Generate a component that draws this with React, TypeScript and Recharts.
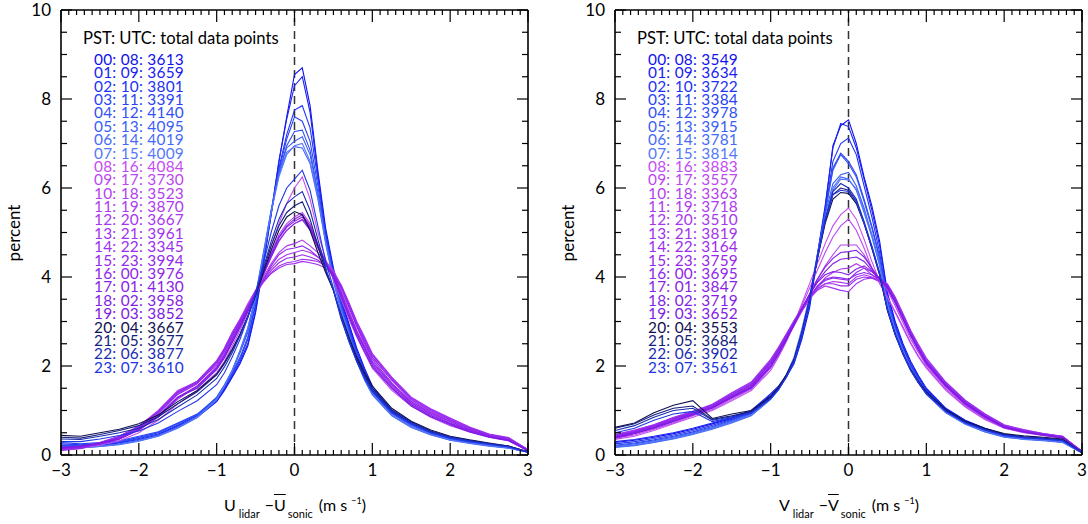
import React from 'react';
import { LineChart, Line, XAxis, YAxis, ReferenceLine } from 'recharts';

// ---------- data ----------
const X_VALUES = [-3, -2.75, -2.5, -2.25, -2, -1.75, -1.5, -1.25, -1, -0.9, -0.8, -0.7, -0.6, -0.5, -0.4, -0.3, -0.2, -0.1, 0, 0.1, 0.2, 0.3, 0.4, 0.5, 0.6, 0.7, 0.8, 0.9, 1, 1.25, 1.5, 1.75, 2, 2.25, 2.5, 2.75, 3];

const HOURS_PST = ['00', '01', '02', '03', '04', '05', '06', '07', '08', '09', '10', '11', '12', '13', '14', '15', '16', '17', '18', '19', '20', '21', '22', '23'];
const HOURS_UTC = ['08', '09', '10', '11', '12', '13', '14', '15', '16', '17', '18', '19', '20', '21', '22', '23', '00', '01', '02', '03', '04', '05', '06', '07'];
const U_COUNTS = [3613, 3659, 3801, 3391, 4140, 4095, 4019, 4009, 4084, 3730, 3523, 3870, 3667, 3961, 3345, 3994, 3976, 4130, 3958, 3852, 3667, 3677, 3877, 3610];
const V_COUNTS = [3549, 3634, 3722, 3384, 3978, 3915, 3781, 3814, 3883, 3557, 3363, 3718, 3510, 3819, 3164, 3759, 3695, 3847, 3719, 3652, 3553, 3684, 3902, 3561];

const X_TICK_LABELS = [-3, -2, -1, 0, 1, 2, 3];
const Y_TICK_LABELS = [0, 2, 4, 6, 8, 10];

const U_CURVES = [
  [0.2,0.2,0.22,0.27,0.35,0.45,0.65,0.85,1.2,1.45,1.75,2.05,2.45,3.2,4.25,5.4,6.6,7.6,8.55,8.7,7.85,6.4,5.1,4.2,3.5,2.95,2.4,1.95,1.55,1.0,0.72,0.52,0.38,0.3,0.24,0.18,0.06],
  [0.22,0.21,0.24,0.28,0.37,0.47,0.67,0.88,1.22,1.48,1.78,2.1,2.5,3.25,4.3,5.45,6.6,7.55,8.3,8.5,7.7,6.3,5.0,4.15,3.45,2.9,2.35,1.9,1.5,0.98,0.7,0.5,0.37,0.29,0.23,0.17,0.06],
  [0.25,0.23,0.26,0.3,0.4,0.5,0.7,0.9,1.25,1.52,1.82,2.15,2.6,3.35,4.35,5.4,6.45,7.2,7.75,7.85,7.35,6.2,4.95,4.1,3.4,2.85,2.3,1.85,1.48,0.96,0.7,0.5,0.36,0.29,0.23,0.17,0.07],
  [0.28,0.25,0.28,0.32,0.42,0.52,0.72,0.92,1.28,1.55,1.85,2.2,2.65,3.4,4.4,5.45,6.4,7.1,7.6,7.5,7.05,6.05,4.9,4.05,3.35,2.8,2.25,1.82,1.45,0.95,0.68,0.5,0.37,0.3,0.24,0.18,0.07],
  [0.22,0.21,0.25,0.3,0.38,0.5,0.7,0.9,1.3,1.58,1.9,2.3,2.75,3.5,4.45,5.45,6.35,6.95,7.27,7.3,6.85,5.9,4.85,4.0,3.3,2.75,2.2,1.78,1.42,0.93,0.67,0.49,0.36,0.29,0.23,0.17,0.07],
  [0.18,0.17,0.2,0.25,0.33,0.44,0.63,0.86,1.26,1.56,1.9,2.32,2.8,3.55,4.5,5.5,6.35,6.9,7.05,7.15,6.75,5.85,4.8,3.95,3.25,2.7,2.15,1.72,1.38,0.9,0.64,0.47,0.34,0.27,0.21,0.16,0.06],
  [0.16,0.16,0.19,0.23,0.31,0.42,0.6,0.84,1.24,1.55,1.9,2.35,2.85,3.6,4.55,5.5,6.3,6.8,6.93,6.9,6.55,5.75,4.75,3.9,3.2,2.65,2.1,1.68,1.35,0.88,0.62,0.45,0.33,0.26,0.2,0.15,0.06],
  [0.17,0.16,0.19,0.24,0.32,0.43,0.61,0.85,1.25,1.55,1.9,2.35,2.85,3.55,4.5,5.45,6.25,6.75,6.95,7.0,6.6,5.8,4.8,3.95,3.25,2.7,2.15,1.7,1.36,0.89,0.63,0.46,0.34,0.27,0.21,0.16,0.06],
  [0.14,0.16,0.22,0.32,0.5,0.78,1.15,1.45,1.85,2.1,2.45,2.8,3.2,3.65,4.15,4.7,5.2,5.65,6.0,6.25,5.75,5.0,4.4,3.95,3.5,3.05,2.65,2.3,1.95,1.45,1.1,0.85,0.66,0.52,0.4,0.32,0.09],
  [0.15,0.18,0.25,0.36,0.56,0.85,1.25,1.55,1.95,2.2,2.55,2.9,3.25,3.65,4.1,4.55,4.95,5.2,5.35,5.45,5.2,4.75,4.35,4.05,3.6,3.15,2.75,2.4,2.05,1.55,1.15,0.9,0.7,0.55,0.42,0.34,0.1],
  [0.13,0.17,0.27,0.4,0.62,0.95,1.4,1.62,2.02,2.28,2.62,2.95,3.3,3.65,4.05,4.45,4.8,5.05,5.2,5.3,5.1,4.7,4.35,4.1,3.7,3.25,2.8,2.45,2.1,1.6,1.2,0.95,0.76,0.58,0.44,0.36,0.11],
  [0.12,0.16,0.28,0.42,0.65,1.0,1.45,1.65,2.1,2.35,2.7,3.0,3.35,3.7,4.0,4.3,4.55,4.7,4.75,4.83,4.7,4.55,4.35,4.15,3.8,3.35,2.9,2.55,2.2,1.68,1.25,1.0,0.8,0.6,0.45,0.37,0.11],
  [0.11,0.15,0.27,0.41,0.64,0.98,1.42,1.66,2.12,2.4,2.75,3.05,3.4,3.7,3.95,4.2,4.4,4.5,4.55,4.6,4.55,4.45,4.3,4.1,3.8,3.4,2.95,2.6,2.25,1.72,1.28,1.02,0.82,0.62,0.46,0.38,0.12],
  [0.1,0.14,0.26,0.4,0.62,0.97,1.4,1.65,2.1,2.4,2.75,3.05,3.35,3.65,3.9,4.1,4.25,4.32,4.35,4.4,4.38,4.35,4.25,4.1,3.82,3.42,3.0,2.65,2.28,1.75,1.3,1.04,0.83,0.63,0.47,0.39,0.12],
  [0.12,0.15,0.27,0.41,0.63,0.96,1.38,1.63,2.08,2.38,2.72,3.02,3.32,3.62,3.88,4.08,4.2,4.28,4.3,4.35,4.32,4.28,4.2,4.05,3.78,3.4,2.98,2.62,2.25,1.72,1.28,1.02,0.8,0.61,0.46,0.38,0.12],
  [0.13,0.16,0.28,0.42,0.64,0.98,1.42,1.64,2.08,2.36,2.7,3.0,3.32,3.65,3.92,4.15,4.32,4.42,4.45,4.5,4.45,4.38,4.25,4.08,3.78,3.36,2.92,2.55,2.2,1.68,1.24,0.98,0.78,0.6,0.45,0.37,0.11],
  [0.14,0.17,0.26,0.38,0.6,0.92,1.36,1.6,2.05,2.32,2.66,2.98,3.3,3.65,3.95,4.25,4.5,4.62,4.65,4.7,4.6,4.45,4.28,4.08,3.75,3.32,2.88,2.5,2.15,1.62,1.2,0.95,0.75,0.57,0.43,0.35,0.1],
  [0.15,0.18,0.25,0.36,0.57,0.88,1.3,1.55,1.98,2.25,2.6,2.92,3.28,3.65,4.05,4.45,4.82,5.05,5.2,5.28,5.05,4.65,4.3,4.05,3.65,3.2,2.78,2.42,2.08,1.58,1.17,0.92,0.72,0.56,0.42,0.34,0.1],
  [0.16,0.19,0.26,0.36,0.56,0.86,1.28,1.52,1.95,2.22,2.56,2.9,3.25,3.65,4.1,4.5,4.9,5.15,5.3,5.4,5.15,4.72,4.32,4.02,3.6,3.15,2.72,2.38,2.02,1.52,1.13,0.88,0.7,0.54,0.41,0.33,0.1],
  [0.17,0.2,0.27,0.37,0.58,0.88,1.3,1.5,1.92,2.18,2.52,2.86,3.22,3.62,4.08,4.5,4.88,5.12,5.25,5.35,5.12,4.68,4.28,3.98,3.55,3.1,2.68,2.32,1.98,1.5,1.1,0.86,0.68,0.52,0.4,0.32,0.1],
  [0.44,0.42,0.5,0.58,0.7,0.9,1.2,1.45,1.82,2.08,2.38,2.72,3.12,3.58,4.1,4.6,5.05,5.35,5.47,5.4,5.05,4.55,4.1,3.7,3.15,2.65,2.2,1.85,1.55,1.05,0.76,0.56,0.42,0.34,0.27,0.2,0.07],
  [0.4,0.38,0.46,0.55,0.66,0.86,1.15,1.42,1.8,2.05,2.35,2.7,3.1,3.6,4.15,4.7,5.15,5.45,5.6,5.69,5.3,4.7,4.15,3.7,3.1,2.6,2.15,1.8,1.5,1.02,0.74,0.54,0.41,0.33,0.26,0.2,0.07],
  [0.36,0.35,0.42,0.5,0.6,0.8,1.08,1.35,1.72,1.98,2.3,2.68,3.1,3.62,4.2,4.8,5.3,5.65,5.8,5.92,5.5,4.85,4.2,3.7,3.05,2.55,2.1,1.75,1.45,0.98,0.72,0.52,0.4,0.32,0.25,0.19,0.07],
  [0.3,0.3,0.36,0.44,0.54,0.72,0.98,1.22,1.58,1.85,2.2,2.6,3.08,3.65,4.3,5.0,5.6,6.0,6.2,6.4,5.95,5.15,4.35,3.75,3.1,2.55,2.1,1.72,1.42,0.95,0.7,0.5,0.38,0.3,0.24,0.18,0.06],
];

const V_CURVES = [
  [0.28,0.33,0.4,0.48,0.58,0.7,0.82,0.98,1.35,1.52,1.75,2.05,2.6,3.3,4.45,5.55,6.95,7.4,7.53,7.0,6.25,5.6,4.8,3.65,3.0,2.5,2.1,1.78,1.5,1.05,0.78,0.6,0.46,0.4,0.37,0.33,0.05],
  [0.3,0.35,0.42,0.5,0.6,0.72,0.84,1.0,1.38,1.55,1.78,2.1,2.65,3.4,4.5,5.6,6.9,7.45,7.38,6.9,6.2,5.5,4.7,3.6,2.95,2.45,2.05,1.75,1.48,1.04,0.77,0.6,0.46,0.4,0.37,0.33,0.05],
  [0.25,0.3,0.37,0.45,0.55,0.67,0.8,0.96,1.32,1.5,1.75,2.08,2.65,3.4,4.45,5.5,6.6,7.0,7.12,6.75,6.05,5.35,4.55,3.5,2.9,2.42,2.02,1.72,1.45,1.02,0.75,0.58,0.44,0.39,0.36,0.32,0.05],
  [0.22,0.27,0.34,0.42,0.52,0.64,0.78,0.94,1.3,1.5,1.76,2.1,2.7,3.45,4.45,5.45,6.45,6.78,6.6,6.3,5.75,5.15,4.45,3.45,2.85,2.38,1.98,1.68,1.42,1.0,0.73,0.56,0.43,0.38,0.35,0.31,0.05],
  [0.2,0.25,0.32,0.4,0.5,0.62,0.76,0.92,1.28,1.48,1.75,2.12,2.72,3.5,4.5,5.45,6.4,6.75,6.55,6.25,5.7,5.1,4.4,3.42,2.82,2.35,1.96,1.66,1.4,0.98,0.72,0.55,0.42,0.37,0.34,0.3,0.05],
  [0.18,0.22,0.29,0.37,0.47,0.6,0.74,0.9,1.26,1.48,1.78,2.15,2.78,3.55,4.5,5.4,6.1,6.3,6.35,6.05,5.55,4.95,4.3,3.38,2.78,2.32,1.93,1.63,1.38,0.96,0.7,0.53,0.41,0.36,0.33,0.29,0.05],
  [0.17,0.21,0.28,0.36,0.46,0.58,0.72,0.88,1.25,1.47,1.77,2.16,2.8,3.55,4.45,5.3,6.0,6.25,6.2,5.95,5.45,4.9,4.25,3.35,2.75,2.3,1.92,1.62,1.36,0.95,0.69,0.52,0.4,0.35,0.32,0.28,0.05],
  [0.19,0.23,0.3,0.38,0.48,0.6,0.74,0.9,1.27,1.5,1.8,2.2,2.82,3.55,4.42,5.25,5.95,6.2,6.18,5.98,5.5,4.95,4.3,3.4,2.8,2.35,1.95,1.65,1.38,0.96,0.7,0.53,0.41,0.36,0.33,0.29,0.05],
  [0.35,0.42,0.55,0.7,0.85,1.0,1.22,1.45,1.9,2.2,2.55,2.95,3.4,3.85,4.3,4.75,5.15,5.4,5.55,5.3,4.85,4.35,3.9,3.55,3.2,2.85,2.5,2.2,1.95,1.45,1.08,0.8,0.6,0.5,0.44,0.38,0.07],
  [0.38,0.45,0.58,0.72,0.88,1.02,1.25,1.48,1.95,2.22,2.55,2.92,3.35,3.75,4.15,4.55,4.9,5.15,5.3,5.05,4.65,4.2,3.85,3.55,3.22,2.88,2.52,2.22,1.98,1.48,1.1,0.82,0.61,0.51,0.44,0.38,0.07],
  [0.4,0.5,0.62,0.78,0.92,1.08,1.3,1.52,2.0,2.28,2.6,2.92,3.28,3.62,3.95,4.25,4.5,4.72,4.72,4.72,4.5,4.2,3.95,3.7,3.35,2.98,2.6,2.3,2.02,1.52,1.12,0.84,0.62,0.52,0.45,0.39,0.08],
  [0.42,0.52,0.64,0.8,0.94,1.1,1.32,1.52,2.02,2.3,2.6,2.9,3.22,3.5,3.78,3.98,4.1,4.18,4.2,4.3,4.2,4.05,3.92,3.75,3.42,3.05,2.68,2.36,2.07,1.56,1.16,0.86,0.63,0.53,0.46,0.4,0.08],
  [0.45,0.55,0.68,0.84,0.97,1.12,1.36,1.58,2.08,2.35,2.65,2.95,3.25,3.5,3.72,3.85,3.9,3.88,3.85,4.0,4.05,4.0,3.92,3.8,3.5,3.12,2.74,2.42,2.12,1.6,1.2,0.9,0.66,0.55,0.47,0.41,0.08],
  [0.44,0.54,0.66,0.82,0.96,1.12,1.38,1.62,2.12,2.4,2.7,3.0,3.28,3.52,3.7,3.8,3.75,3.7,3.67,3.85,3.95,3.98,3.9,3.82,3.52,3.15,2.78,2.45,2.15,1.62,1.22,0.92,0.67,0.56,0.48,0.42,0.08],
  [0.46,0.56,0.68,0.84,0.98,1.14,1.4,1.64,2.15,2.42,2.72,3.02,3.3,3.55,3.75,3.85,3.85,3.8,3.8,3.95,4.0,3.98,3.9,3.85,3.55,3.18,2.8,2.48,2.18,1.64,1.23,0.93,0.68,0.57,0.48,0.42,0.08],
  [0.43,0.53,0.66,0.82,0.96,1.12,1.36,1.6,2.1,2.38,2.68,2.98,3.28,3.55,3.78,3.92,3.98,3.95,3.93,4.1,4.2,4.12,3.98,3.82,3.5,3.12,2.74,2.42,2.12,1.6,1.2,0.9,0.65,0.54,0.47,0.41,0.08],
  [0.42,0.52,0.64,0.8,0.95,1.1,1.34,1.58,2.08,2.36,2.66,2.97,3.28,3.55,3.8,3.95,4.0,3.98,3.95,4.05,4.1,4.05,3.95,3.8,3.48,3.1,2.72,2.4,2.1,1.58,1.18,0.88,0.64,0.53,0.46,0.4,0.08],
  [0.4,0.5,0.63,0.78,0.93,1.08,1.32,1.55,2.05,2.33,2.64,2.96,3.3,3.6,3.88,4.05,4.12,4.1,4.05,4.18,4.25,4.12,3.96,3.8,3.46,3.08,2.7,2.38,2.08,1.57,1.17,0.87,0.64,0.53,0.46,0.4,0.08],
  [0.38,0.48,0.6,0.75,0.9,1.05,1.28,1.5,1.98,2.26,2.58,2.92,3.28,3.62,3.95,4.22,4.42,4.55,4.57,4.6,4.45,4.2,3.95,3.75,3.42,3.05,2.67,2.35,2.05,1.54,1.14,0.85,0.62,0.52,0.45,0.39,0.07],
  [0.39,0.49,0.61,0.76,0.91,1.06,1.3,1.52,2.0,2.28,2.6,2.93,3.28,3.6,3.9,4.12,4.3,4.4,4.42,4.45,4.35,4.15,3.95,3.78,3.45,3.08,2.7,2.37,2.07,1.56,1.16,0.87,0.63,0.52,0.45,0.39,0.07],
  [0.62,0.72,0.95,1.12,1.22,0.82,0.92,1.0,1.32,1.52,1.8,2.15,2.75,3.5,4.4,5.2,5.75,5.9,5.88,5.65,5.2,4.65,4.05,3.25,2.7,2.28,1.92,1.65,1.42,1.02,0.76,0.6,0.48,0.43,0.4,0.36,0.05],
  [0.6,0.7,0.9,1.05,1.1,0.8,0.88,0.98,1.3,1.5,1.78,2.13,2.72,3.48,4.42,5.25,5.85,6.0,5.95,5.7,5.22,4.65,4.05,3.25,2.7,2.26,1.9,1.62,1.4,1.0,0.74,0.58,0.46,0.41,0.38,0.34,0.05],
  [0.55,0.66,0.85,1.0,1.05,0.78,0.86,0.96,1.28,1.48,1.76,2.12,2.72,3.5,4.45,5.3,5.92,6.1,6.0,5.75,5.25,4.7,4.1,3.28,2.72,2.28,1.9,1.62,1.38,0.98,0.73,0.57,0.45,0.4,0.37,0.33,0.05],
  [0.5,0.6,0.78,0.92,0.98,0.75,0.84,0.94,1.26,1.46,1.74,2.1,2.7,3.48,4.42,5.28,5.85,5.95,5.92,5.7,5.2,4.68,4.08,3.28,2.72,2.28,1.9,1.62,1.38,0.98,0.72,0.56,0.44,0.39,0.36,0.32,0.05],
];

// ---------- styles ----------
const COLORS = [
  '#1010f0', '#1822f1', '#2032f3', '#2842f4', '#3150f5', '#3a5df6', '#466af8', '#5477f9',
  '#c44cf2', '#bc46f1', '#b440f0', '#ae3af0', '#a836f0', '#a232ef', '#9c2eee', '#962aec',
  '#9026ea', '#8a22e8', '#841ee6', '#7e1ae4',
  '#101050', '#141e7c', '#1a2cb0', '#2036e6',
];
const FONT = 'Lato, "Noto Sans", sans-serif';

const X_MINOR: number[] = [];
for (let i = -30; i <= 30; i++) X_MINOR.push(i / 10);
const Y_MINOR: number[] = [];
for (let i = 0; i <= 20; i++) Y_MINOR.push(i / 2);

const isInt = (v: number) => Math.abs(v - Math.round(v)) < 1e-6;
const fmt = (v: number) => (v < 0 ? '\u2212' + Math.abs(v) : String(v));

const AX = { stroke: '#000', strokeWidth: 1.6 };

const BottomTick = (p: any) => {
  const v = p.payload.value;
  const major = isInt(v);
  const showLabel = major && X_TICK_LABELS.some((t) => Math.abs(t - v) < 1e-6);
  return (
    <g>
      <line x1={p.x} y1={p.y} x2={p.x} y2={p.y - (major ? 12 : 5)} stroke="#000" strokeWidth={1.2} />
      {showLabel && (
        <text x={p.x} y={p.y + 21} textAnchor="middle" fontSize={17} fontFamily={FONT} fill="#000">{fmt(Math.round(v))}</text>
      )}
    </g>
  );
};
const TopTick = (p: any) => {
  const v = p.payload.value;
  const major = isInt(v);
  return <line x1={p.x} y1={p.y} x2={p.x} y2={p.y + (major ? 12 : 5)} stroke="#000" strokeWidth={1.2} />;
};
const LeftTick = (p: any) => {
  const v = p.payload.value;
  const major = Y_TICK_LABELS.some((t) => Math.abs(t - v) < 1e-6);
  return (
    <g>
      <line x1={p.x} y1={p.y} x2={p.x + (major ? 11 : 6)} y2={p.y} stroke="#000" strokeWidth={1.2} />
      {major && (
        <text x={p.x - 10} y={p.y + 6} textAnchor="end" fontSize={17} fontFamily={FONT} fill="#000">{String(v)}</text>
      )}
    </g>
  );
};
const RightTick = (p: any) => {
  const v = p.payload.value;
  const major = Y_TICK_LABELS.some((t) => Math.abs(t - v) < 1e-6);
  return <line x1={p.x} y1={p.y} x2={p.x - (major ? 11 : 6)} y2={p.y} stroke="#000" strokeWidth={1.2} />;
};

function Panel({ curves, counts, left, width, marginRight, sym }: any) {
  const data = X_VALUES.map((x, i) => {
    const row: any = { x };
    curves.forEach((c: number[], k: number) => { row['s' + k] = c[i]; });
    return row;
  });
  return (
    <div style={{ position: 'absolute', left, top: 0, width, height: 524 }}>
      <LineChart width={width} height={524} data={data} margin={{ top: 9, right: marginRight, bottom: 0, left: 0 }}>
        <XAxis dataKey="x" type="number" domain={[-3, 3]} ticks={X_MINOR} interval={0} tick={BottomTick} tickLine={false} tickSize={0} tickMargin={0} axisLine={AX} height={69} allowDataOverflow />
        <XAxis xAxisId="top" orientation="top" dataKey="x" type="number" domain={[-3, 3]} ticks={X_MINOR} interval={0} tick={TopTick} tickLine={false} tickSize={0} tickMargin={0} axisLine={AX} height={1} allowDataOverflow />
        <YAxis type="number" domain={[0, 10]} ticks={Y_MINOR} interval={0} tick={LeftTick} tickLine={false} tickSize={0} tickMargin={0} axisLine={AX} width={61} allowDataOverflow />
        <YAxis yAxisId="right" orientation="right" type="number" domain={[0, 10]} ticks={Y_MINOR} interval={0} tick={RightTick} tickLine={false} tickSize={0} tickMargin={0} axisLine={AX} width={1} allowDataOverflow />
        <ReferenceLine x={0} stroke="#333" strokeDasharray="8 5" strokeWidth={1.5} />
        {curves.map((_: number[], k: number) => (
          <Line key={k} type="linear" dataKey={'s' + k} stroke={COLORS[k]} strokeWidth={1.1} dot={false} activeDot={false} isAnimationActive={false} />
        ))}
      </LineChart>
      <svg width={width} height={524} style={{ position: 'absolute', left: 0, top: 0, pointerEvents: 'none' }}>
        <text x={83} y={43.5} fontSize={16.6} fontFamily={FONT} fill="#000">PST: UTC: total data points</text>
        {counts.map((n: number, i: number) => (
          <text key={i} x={94} y={59.3 + 13.39 * i + 5.5} fontSize={15.4} letterSpacing={0.25} fontFamily={FONT} fill={COLORS[i]}>
            {HOURS_PST[i] + ': ' + HOURS_UTC[i] + ': ' + n}
          </text>
        ))}
        <text x={20} y={233} fontSize={17} fontFamily={FONT} fill="#000" textAnchor="middle" transform="rotate(-90 20 233)">percent</text>
      </svg>
      <div style={{ position: 'absolute', left: 295, top: 495, transform: 'translateX(-50%)', fontFamily: FONT, fontSize: 16, color: '#000', whiteSpace: 'nowrap' }}>
        {sym}
        <span style={{ fontSize: 11, position: 'relative', top: 7, marginLeft: 3 }}>lidar</span>
        <span style={{ marginLeft: 5 }}>{'\u2212'}</span>
        <span style={{ textDecoration: 'overline' }}>{sym}</span>
        <span style={{ fontSize: 11, position: 'relative', top: 7, marginLeft: 2 }}>sonic</span>
        <span style={{ marginLeft: 6 }}>(m s </span>
        <span style={{ fontSize: 9, position: 'relative', top: -7 }}>{'\u2212'}1</span>
        <span>)</span>
      </div>
    </div>
  );
}

export default function App() {
  return (
    <div style={{ position: 'absolute', left: 0, top: 0, width: 1088, height: 524, background: '#fff', overflow: 'hidden' }}>
      <Panel curves={U_CURVES} counts={U_COUNTS} left={0} width={544} marginRight={15} sym="U" />
      <Panel curves={V_CURVES} counts={V_COUNTS} left={554} width={534} marginRight={5} sym="V" />
    </div>
  );
}
